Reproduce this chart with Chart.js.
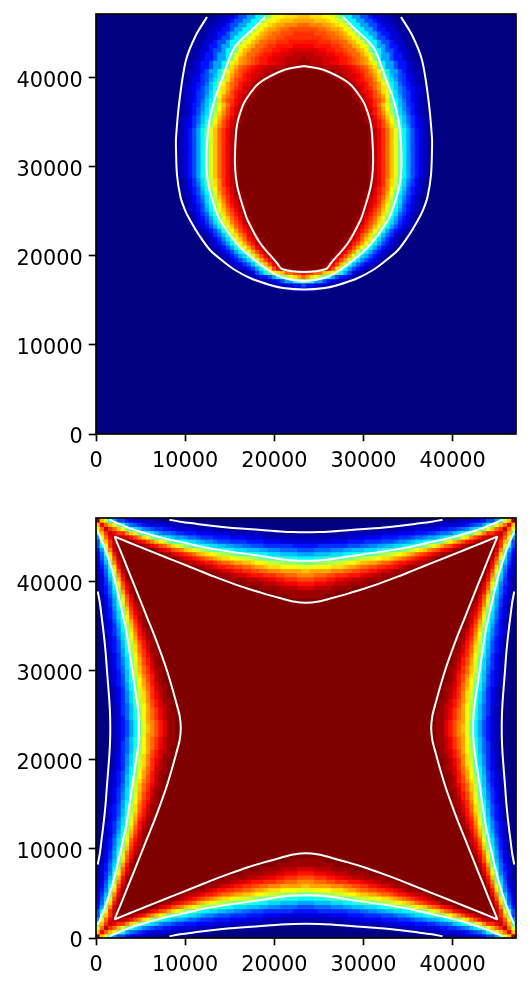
<!DOCTYPE html>
<html><head><meta charset="utf-8">
<style>html,body{margin:0;padding:0;background:#fff;overflow:hidden}canvas{position:absolute;left:0}</style>
<script src="https://cdn.jsdelivr.net/npm/chart.js@4/dist/chart.umd.js"></script>
</head><body>
<canvas id="c1" width="530" height="514" style="top:-20px"></canvas>
<canvas id="c2" width="530" height="494" style="top:494px"></canvas>
<script>
const tickValues=[0,10000,20000,30000,40000];
const axisMax=47100, gridSize=100, cellSpan=471;

// Upper panel: heat levels read row by row, top row first (left half, base-36 level, "start:ramp").
const upperRows=[
"27:112233577aaddhjlmmnnnoo","26:112233577aaddhklmnoooppp","25:112233577aaddhlmnoppqqqrr","25:11233557aaddhlmoppqrrssss",
"24:11233557aaddhlmopqrrsssttt","24:11233577addhlmopqrrssttttt","23:11233577addhlmoprrsstttuuuu","23:1123557aadhlmoprrsttuuuuvvv",
"22:11233577addhmoprrsttuuvvwwww","22:1123557aadhlnprrstuuvvwwwxxx","22:1123557aadhmpqrstuuvwwwxxxxy","21:1123557aadhlnpqrstuuvvwwxxxyy",
"21:1123557aadhnprstuvwwxxxxyyyyy","21:122357aadhloqstuvwwxxyyy",
"21:1234679behnprsuvwwxyyy","21:123467acfjnqstuvwxyyy","20:1223568bdjmprsuvwxyy","20:1234579beknprtuwxxy",
"20:1234679cflnqsuvwxy","20:123467acfmprsuwxyy","20:123468bdgnqstvwxy","20:123569beilortvxy","20:123579cfimpsuwxy",
"19:112357acgjnqsuwy","19:122468bdhlortvxy","19:123468beimpsuwxy","19:123469cfjnqsuwy",
"19:12357adhlortvxy","19:12357adhlortvxy","19:12357adhlortvxy","19:12357adhlortvxy","19:12357adhlortvxy","19:12357adhlortvxy",
"19:12357adhlortvxy","19:12357adhlortvxy","19:12357adhlortvxy","19:12357adhlortvxy","19:12357adhlortvxy","19:12357adhlortvxy",
"20:12469cgknqtvxy","20:12468cfknqtvxy","20:12357bejmqsuwy","20:12357adhlpsuwyy",
"21:12469cgkortvxy","21:12468cfjnqtvwyy","21:12357beimpsuwxy","21:12357adhlortvxy",
"22:12468cfjnqsuwy","22:12357adhlortvxy","22:123469cgknqsuxy","23:12357adhlortvxy",
"24:12357aeimpsuwy","25:12368bfjnqsvxy","26:12469cgloruwxy","26:12357adhmpsuxy",
"27:12357adimpsvxy","28:12357adglpsvxy","29:12357acglpsvx","30:123579cfkpsvx",
"31:123468bfjosvx","33:12357adinsvy","35:1237adhlnorrttv","36:123557adhjlnpr",
"39:122357aadhi","41:112233557","45:11223"
];

// Lower panel: levels of the lower-left corner, one string per column, from the bottom edge (missing = saturated).
const lowerCorner=[
"y","ov","lrx","dotx","alrvy","7hotxy","7dltx","5ahqw","48enuy","37cksx",
"36bhqv","259fnuy","248dlsx","237ciqv","136bgouy","1369fmsw","1358dkrvy","1258chpuy","1247bgnsw","1236aflrvy",
"1236aekquxy","01359diotwy","01358chnsvx","01358cgmruxy","01247bekptwy","01246adjosvy","012469dinruxy","012469chmquwy","001358cglptvyy","001357bfkosuxy",
"001357bejnruwy","001357aejnrtwyy","001246adimqtvxy","0012469chlpsuxy","0012469cglpsuwy","0012468cgkortwyy","0012358bfkortvxy","0012357bejnqsuxy","0012357beimpsuxy","0012357adhmpruwyy",
"0001246adhlortwxy","00012469cgknqtvxy","00012469cgknqtvxy","00012469cfjnqsuwyy","00012368bfjmpsuwxy","00012368beimprtvxy","00012368beimprtvxyy","00012358beimprtvxyy","00012357adhlpqsuwyy","00012357adhloqsuwyy"
];

// Upper panel contours: data y and half-width about the centre line.
const upperCentre=23326;
const upperOuterY=[46763,44743,41940,37454,33193,31847,29044,26577,25119,23998,22316,20634,19288,18391,17494,16709,16372,16204];
const upperOuterW=[10878,12111,13232,13961,14354,14354,14242,13849,13345,12784,11775,10541,8971,7738,6056,3813,2355,0];
const upperMidY=[46763,45305,43959,42837,39137,38015,36894,35212,32633,30726,29044,27362,25680,23998,20970,18391,17494,17157];
const upperMidW=[4373,5831,7289,8074,9420,9868,10205,10597,10878,10934,10878,10597,10093,9420,7177,4037,2243,0];
const upperInnerY=[41268,40819,39810,39137,38015,36894,34651,31623,29605,27923,26577,25119,23998,21419,19176,18503,18167];
const upperInnerW=[0,2243,4373,5271,6168,6841,7513,7738,7715,7513,7177,6728,6336,4934,3028,2467,0];

// Lower panel contours: one side (bottom edge, corner to centre), repeated on the four sides.
const lowerOuterX=[8240,9420,11300,13190,15070,16960,18840,20720,22140,23550];
const lowerOuterY=[190,420,660,890,1080,1220,1370,1510,1580,1600];
const lowerMidX=[1460,3770,5650,7540,9420,11300,13190,15070,16960,18840,20720,22140,23550];
const lowerMidY=[190,1130,1740,2260,2680,3110,3490,3770,4050,4330,4620,4760,4800];
const lowerInnerX=[2070,3770,5650,7540,9420,11300,13190,15070,16960,18840,20720,22140,23550];
const lowerInnerY=[2070,2780,3530,4290,5040,5790,6550,7250,7910,8480,9000,9370,9510];

const level=ch=>parseInt(ch,36)/35;
const clamp=v=>Math.max(0,Math.min(1,v));
function jet(v){
  const r=clamp(1.5-Math.abs(4*v-3)),g=clamp(1.5-Math.abs(4*v-2)),b=clamp(1.5-Math.abs(4*v-1));
  return `rgb(${Math.round(r*255)},${Math.round(g*255)},${Math.round(b*255)})`;
}
function upperLevel(col,row){
  const i=99-row;
  if(i>=upperRows.length) return 0;
  const [s,ramp]=upperRows[i].split(':');
  const c=col<=49?col:(col<=98?98-col:0);
  const k=c-Number(s);
  if(k<0) return 0;
  return k<ramp.length?level(ramp[k]):1;
}
function lowerLevel(col,row){
  const c=Math.min(col,99-col),r=Math.min(row,99-row);
  const hi=Math.max(c,r),lo=Math.min(c,r);
  const s=lowerCorner[hi];
  return lo<s.length?level(s[lo]):1;
}
function heatDataset(fn){
  const data=[],colors=[];
  for(let r=0;r<gridSize;r++)for(let c=0;c<gridSize;c++){
    data.push({x:(c+.5)*cellSpan,y:(r+.5)*cellSpan});
    colors.push(jet(fn(c,r)));
  }
  return {data,pointStyle:'rect',pointRadius:3.7,pointHoverRadius:3.7,pointBorderWidth:0,pointBackgroundColor:colors,showLine:false,clip:0,order:2};
}
function lineDataset(points){
  return {data:points,showLine:true,borderColor:'#fff',borderWidth:2,pointRadius:0,tension:0.3,fill:false,clip:0,order:1};
}
function upperCurve(ys,ws){
  const left=ys.map((y,i)=>({x:upperCentre-ws[i],y}));
  const right=ys.map((y,i)=>({x:upperCentre+ws[i],y})).reverse();
  return left.concat(right.slice(1));
}
function lowerSides(xs,ys){
  const M=axisMax;
  const side=(f)=>{
    const a=xs.map((x,i)=>f(x,ys[i]));
    const b=xs.map((x,i)=>f(M-x,ys[i])).reverse();
    return a.concat(b.slice(1));
  };
  return [
    side((x,y)=>({x,y})),
    side((x,y)=>({x:M-y,y:x})),
    side((x,y)=>({x:M-x,y:M-y})),
    side((x,y)=>({x:y,y:M-x}))
  ];
}
const frame={id:'frame',afterDraw(ch){
  const a=ch.chartArea,g=ch.ctx;
  g.save();g.strokeStyle='#000';g.lineWidth=1.67;
  g.strokeRect(a.left,a.top,a.right-a.left,a.bottom-a.top);g.restore();
}};
function axis(extra,tickExtra){
  return Object.assign({
    type:'linear',min:0,max:axisMax,
    border:{display:false},
    grid:{drawOnChartArea:false,drawTicks:true,tickLength:7.3,tickWidth:1.67,tickColor:'#000'},
    afterBuildTicks(s){s.ticks=tickValues.map(value=>({value}));},
    ticks:Object.assign({color:'#000',font:{family:'DejaVu Sans',size:20.8},maxRotation:0,autoSkip:false,includeBounds:false,callback:v=>String(v)},tickExtra)
  },extra);
}
function make(id,datasets,top,xHeight){
  new Chart(document.getElementById(id),{
    type:'scatter',
    data:{datasets},
    plugins:[frame],
    options:{
      responsive:false,animation:false,devicePixelRatio:1,
      events:[],
      layout:{padding:{top,right:14,left:0,bottom:0}},
      plugins:{legend:{display:false},tooltip:{enabled:false}},
      scales:{
        x:axis({afterFit(s){s.height=xHeight;}},{padding:8}),
        y:axis({afterFit(s){s.width=96;}},{padding:6,labelOffset:4})
      }
    }
  });
}
const upperInner=upperCurve(upperInnerY,upperInnerW);
upperInner.push(upperInner[0]);
make('c1',[
  heatDataset(upperLevel),
  lineDataset(upperCurve(upperOuterY,upperOuterW)),
  lineDataset(upperCurve(upperMidY,upperMidW)),
  lineDataset(upperInner)
],34,60);
make('c2',[
  heatDataset(lowerLevel),
  ...lowerSides(lowerOuterX,lowerOuterY).map(lineDataset),
  ...lowerSides(lowerMidX,lowerMidY).map(lineDataset),
  ...lowerSides(lowerInnerX,lowerInnerY).map(lineDataset)
],24,50);
</script>
</body></html>
